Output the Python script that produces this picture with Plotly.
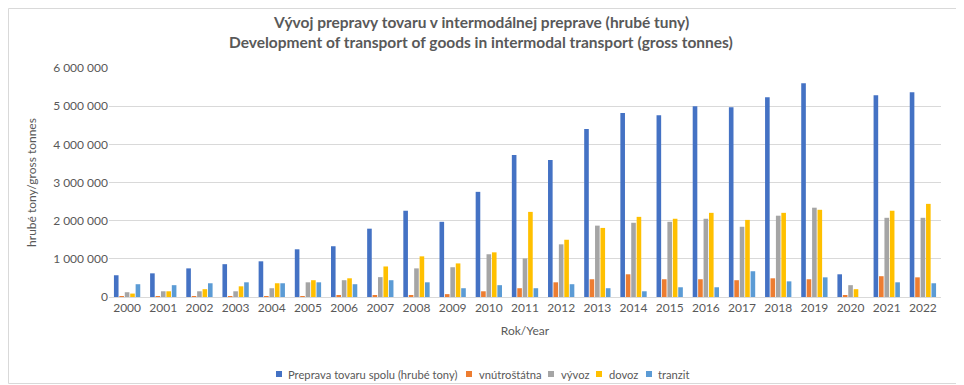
import plotly.graph_objects as go

years = [str(y) for y in range(2000, 2023)]
spolu = [570000, 620000, 750000, 860000, 935000, 1250000, 1330000, 1790000, 2260000, 1970000,
         2755000, 3720000, 3590000, 4400000, 4820000, 4765000, 5000000, 4970000, 5235000, 5600000,
         595000, 5285000, 5365000]
vnutrostatna = [20000, 20000, 20000, 20000, 20000, 20000, 50000, 50000, 50000, 75000,
                150000, 230000, 385000, 465000, 595000, 465000, 465000, 440000, 490000, 465000,
                50000, 545000, 515000]
vyvoz = [125000, 150000, 150000, 150000, 230000, 385000, 440000, 520000, 750000, 780000,
         1120000, 1010000, 1380000, 1870000, 1945000, 1970000, 2050000, 1840000, 2130000, 2340000,
         310000, 2075000, 2075000]
dovoz = [90000, 150000, 205000, 280000, 360000, 440000, 490000, 800000, 1065000, 880000,
         1170000, 2230000, 1500000, 1810000, 2100000, 2050000, 2205000, 2020000, 2205000, 2285000,
         205000, 2260000, 2440000]
tranzit = [335000, 310000, 360000, 385000, 360000, 385000, 335000, 440000, 385000, 230000,
           310000, 230000, 335000, 230000, 150000, 255000, 255000, 675000, 410000, 515000,
           0, 385000, 360000]

series_names = ["Preprava tovaru spolu (hrubé tony)", "vnútroštátna", "vývoz", "dovoz", "tranzit"]
series_vals = [spolu, vnutrostatna, vyvoz, dovoz, tranzit]
series_colors = ["#4472C4", "#ED7D31", "#A5A5A5", "#FFC000", "#5B9BD5"]
title_lines = ["Vývoj prepravy tovaru v intermodálnej preprave (hrubé tuny)",
               "Development of transport of goods in intermodal transport (gross tonnes)"]

# The page body has an 8px default margin, so the figure starts at (8, 8).
OFF = 8
WIN_W, WIN_H = 964, 385
W, H = WIN_W - OFF, WIN_H - OFF
# target plot box in window pixels: x 109..941, y 68..297.5
ml, mr = 109 - OFF, WIN_W - 941
mt, mb = 68 - OFF, WIN_H - 297
pw = W - ml - mr
ph = H - mt - mb

def px(x):
    return (x - OFF - ml) / pw

def py(y):
    return (H - mb - (y - OFF)) / ph

fig = go.Figure()
for name, vals, col in zip(series_names, series_vals, series_colors):
    fig.add_trace(go.Bar(x=years, y=vals, name=name, marker_color=col, marker_line_width=0))

font = "Lato, 'Open Sans', sans-serif"
TXT = "#595959"
fig.update_layout(
    width=W, height=H,
    margin=dict(l=ml, r=mr, t=mt, b=mb),
    paper_bgcolor="white", plot_bgcolor="white",
    separators=", ",
    font=dict(family=font, size=11, color=TXT),
    barmode="group", bargap=0.25, bargroupgap=0.15,
    showlegend=False,
    xaxis=dict(
        showgrid=False, showline=True, linecolor="#D9D9D9", linewidth=1,
        ticks="", tickfont=dict(size=12, color=TXT),
        title=dict(text="Rok/Year", font=dict(size=12, color=TXT), standoff=12),
    ),
    yaxis=dict(
        range=[0, 6000000], dtick=1000000, tickformat=",d",
        showgrid=True, gridcolor="#D9D9D9", gridwidth=1, zeroline=False,
        showline=False, ticks="", tickfont=dict(size=12, color=TXT),
        title=dict(text="hrubé tony/gross tonnes", font=dict(size=12, color=TXT), standoff=13),
    ),
)

# Title lines
for line, ypx in zip(title_lines, [22, 42]):
    fig.add_annotation(text="<b>" + line + "</b>", xref="paper", yref="paper",
                       x=px(481), y=py(ypx), xanchor="center", yanchor="middle",
                       showarrow=False, font=dict(family=font, size=15.5, color=TXT))

# Legend drawn as shapes + text
sq_x = [276, 466, 548, 596, 646]
tx_x = [286, 477, 559, 607, 656]
ly = 374
for name, col, sx, tx in zip(series_names, series_colors, sq_x, tx_x):
    fig.add_shape(type="rect", xref="paper", yref="paper",
                  x0=px(sx), x1=px(sx + 6), y0=py(ly + 3), y1=py(ly - 3),
                  fillcolor=col, line=dict(width=0))
    fig.add_annotation(text=name, xref="paper", yref="paper", x=px(tx), y=py(ly),
                       xanchor="left", yanchor="middle", showarrow=False,
                       font=dict(family=font, size=11.2, color=TXT))

# chart border (window edges)
fig.add_shape(type="rect", xref="paper", yref="paper",
              x0=px(OFF + 0.5), x1=px(WIN_W - 1.5), y0=py(WIN_H - 1.5), y1=py(OFF + 0.5),
              line=dict(color="#D9D9D9", width=1), layer="below")
fig.write_html("out.html")
